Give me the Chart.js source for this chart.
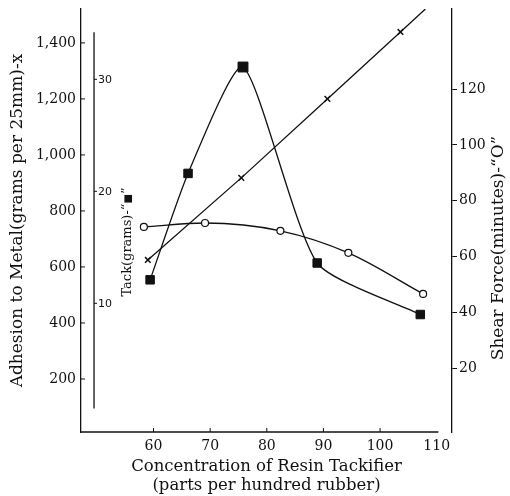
<!DOCTYPE html>
<html><head><meta charset="utf-8">
<script src="https://cdn.jsdelivr.net/npm/chart.js@4"></script>
<style>html,body{margin:0;padding:0;background:#fff}#wrap{width:510px;height:496px}</style>
</head><body><div id="wrap"><canvas id="c" width="510" height="496"></canvas></div>
<script>
// ---- data ----
const concentrationTicks = [60, 70, 80, 90, 100, 110];
const adhesionTicks = [200, 400, 600, 800, 1000, 1200, 1400];
const adhesionTickLabels = ['200', '400', '600', '800', '1,000', '1,200', '1,400'];
const tackTicks = [10, 20, 30];
const shearTicks = [20, 40, 60, 80, 100, 120];

// Adhesion to metal (x markers); last entry is the line's extension without a marker
const adhesionX = [59.0, 75.5, 90.7, 103.6, 108.0];
const adhesion = [625, 918, 1200, 1439, 1521];
// Tack (filled squares)
const tackX = [59.4, 66.1, 75.8, 88.9, 107.1];
const tack = [12.1, 21.6, 31.1, 13.6, 9.0];
// Shear force (open circles)
const shearX = [58.3, 69.1, 82.4, 94.4, 107.6];
const shear = [70.6, 72.0, 69.2, 61.3, 46.6];

const xTitle = ['Concentration of Resin Tackifier', '(parts per hundred rubber)'];
const adhesionTitle = 'Adhesion to Metal(grams per 25mm)-x';
const tackTitleParts = ['Tack(grams)-\u201C', '\u25A0', '\u201D'];
const shearTitle = 'Shear Force(minutes)-\u201CO\u201D';

// ---- styling ----
const INK = '#111';
const SERIF = '"DejaVu Serif", "Liberation Serif", serif';
const pts = (xs, ys) => xs.map((x, i) => ({x: x, y: ys[i]}));
const noPad = s => { s.paddingTop = 0; s.paddingBottom = 0; s.paddingLeft = 0; s.paddingRight = 0; };

const extraAxes = {
  id: 'extraAxes',
  afterDraw(chart) {
    const ctx = chart.ctx, ca = chart.chartArea;
    const sx = chart.scales.x, sa = chart.scales.yA, st = chart.scales.yT;
    ctx.save();
    ctx.strokeStyle = INK; ctx.fillStyle = INK; ctx.lineWidth = 1.3;
    // bottom axis line (ends at 110)
    ctx.beginPath();
    ctx.moveTo(ca.left, ca.bottom);
    ctx.lineTo(sx.getPixelForValue(110.3), ca.bottom);
    ctx.stroke();
    ctx.lineWidth = 1;
    concentrationTicks.slice(0, -1).forEach(v => {
      const p = sx.getPixelForValue(v);
      ctx.beginPath(); ctx.moveTo(p, ca.bottom); ctx.lineTo(p, ca.bottom - 4); ctx.stroke();
    });
    // left axis inward ticks
    adhesionTicks.forEach(v => {
      const p = sa.getPixelForValue(v);
      ctx.beginPath(); ctx.moveTo(ca.left, p); ctx.lineTo(ca.left + 4, p); ctx.stroke();
    });
    // tack axis (inner)
    const tx = sx.getPixelForValue(49.5);
    ctx.lineWidth = 1.3;
    ctx.beginPath();
    ctx.moveTo(tx, st.getPixelForValue(34.2));
    ctx.lineTo(tx, st.getPixelForValue(0.6));
    ctx.stroke();
    ctx.lineWidth = 1;
    ctx.font = '11px "DejaVu Sans", sans-serif';
    ctx.textAlign = 'left'; ctx.textBaseline = 'middle';
    tackTicks.forEach(v => {
      const p = st.getPixelForValue(v);
      ctx.beginPath(); ctx.moveTo(tx, p); ctx.lineTo(tx + 3, p); ctx.stroke();
      ctx.fillText(String(v), tx + 4, p + 1);
    });
    // tack title (reads bottom to top), square drawn smaller
    ctx.save();
    ctx.translate(128, 242);
    ctx.rotate(-Math.PI / 2);
    ctx.textBaseline = 'middle'; ctx.textAlign = 'left';
    const f1 = '13px ' + SERIF, f2 = '10px "DejaVu Sans", sans-serif';
    ctx.font = f1; const w0 = ctx.measureText(tackTitleParts[0]).width;
    const w2 = ctx.measureText(tackTitleParts[2]).width;
    ctx.font = f2; const w1 = ctx.measureText(tackTitleParts[1]).width;
    let xx = -(w0 + w1 + w2) / 2;
    ctx.font = f1; ctx.fillText(tackTitleParts[0], xx, 0); xx += w0;
    ctx.font = f2; ctx.fillText(tackTitleParts[1], xx, 0); xx += w1;
    ctx.font = f1; ctx.fillText(tackTitleParts[2], xx, 0);
    ctx.restore();
    // shear title (reads bottom to top)
    ctx.save();
    ctx.translate(499, 248);
    ctx.rotate(-Math.PI / 2);
    ctx.textAlign = 'center'; ctx.textBaseline = 'middle';
    ctx.font = '17px ' + SERIF;
    ctx.fillText(shearTitle, 0, 0);
    ctx.restore();
    ctx.restore();
  }
};

new Chart(document.getElementById('c'), {
  type: 'line',
  data: {
    datasets: [
      {
        label: 'Adhesion', data: pts(adhesionX, adhesion), yAxisID: 'yA',
        borderColor: INK, backgroundColor: INK, borderWidth: 1.3, tension: 0,
        pointStyle: 'crossRot', pointRadius: [4, 4, 4, 4, 0], pointBorderWidth: 1.5
      },
      {
        label: 'Tack', data: pts(tackX, tack), yAxisID: 'yT',
        borderColor: INK, backgroundColor: INK, borderWidth: 1.3, tension: 0.2,
        pointStyle: 'rect', pointRadius: [6, 6, 7, 6, 6], pointBorderWidth: 1
      },
      {
        label: 'Shear', data: pts(shearX, shear), yAxisID: 'yS',
        borderColor: INK, backgroundColor: '#fff', borderWidth: 1.3, cubicInterpolationMode: 'monotone',
        pointStyle: 'circle', pointRadius: 3.5, pointBorderWidth: 1.2
      }
    ]
  },
  options: {
    responsive: false, animation: false, devicePixelRatio: 1,
    layout: {padding: {top: 9, left: 0, right: 0, bottom: 0}},
    plugins: {legend: {display: false}, tooltip: {enabled: false}},
    scales: {
      x: {
        type: 'linear', min: 47.2, max: 112.7,
        afterBuildTicks: s => { s.ticks = concentrationTicks.map(v => ({value: v})); },
        afterFit: s => { s.height = 64; noPad(s); },
        grid: {display: false, drawTicks: false}, border: {display: false},
        ticks: {color: INK, font: {family: SERIF, size: 14}, padding: 6, maxRotation: 0, autoSkip: false},
        title: {display: true, text: xTitle, color: INK, font: {family: SERIF, size: 16.5}, padding: {top: 0, bottom: 0}}
      },
      yA: {
        type: 'linear', position: 'left', min: 10.7, max: 1521,
        afterBuildTicks: s => { s.ticks = adhesionTicks.map(v => ({value: v})); },
        afterFit: s => { s.width = 81; noPad(s); },
        grid: {display: false, drawTicks: false}, border: {display: true, color: INK, width: 1.3},
        ticks: {color: INK, font: {family: SERIF, size: 14}, padding: 5,
          callback: v => adhesionTickLabels[adhesionTicks.indexOf(v)]},
        title: {display: true, text: adhesionTitle, color: INK, font: {family: SERIF, size: 17}, padding: {top: 7, bottom: 0}}
      },
      yT: {type: 'linear', display: false, min: -1.49, max: 36.28},
      yS: {
        type: 'linear', position: 'right', min: -2.9, max: 148.7,
        afterBuildTicks: s => { s.ticks = shearTicks.map(v => ({value: v})); },
        afterFit: s => { s.width = 58; noPad(s); },
        grid: {display: true, drawOnChartArea: false, drawTicks: true, tickLength: 5, color: INK},
        border: {display: true, color: INK, width: 1.3},
        ticks: {color: INK, font: {family: SERIF, size: 14}, padding: 2}
      }
    }
  },
  plugins: [extraAxes]
});
</script>
</body></html>
